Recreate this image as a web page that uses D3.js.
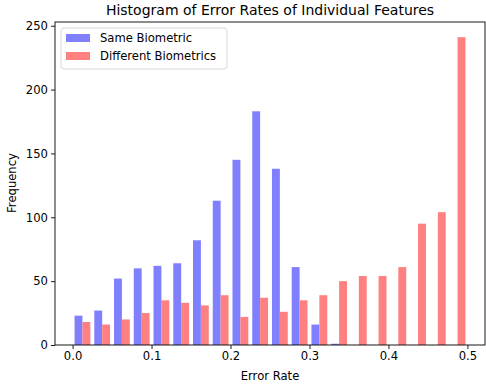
<!DOCTYPE html>
<html>
<head>
<meta charset="utf-8">
<script src="https://cdn.jsdelivr.net/npm/d3@7"></script>
<style>
  body { margin: 0; background: #fff; }
  svg { display: block; font-family: "DejaVu Sans", sans-serif; }
</style>
</head>
<body>
<svg id="chart" width="486" height="387"></svg>
<script>
// histogram: 20 bins from 0 to 0.5
var binStart = 0, binWidth = 0.025;
var seriesNames = ["Same Biometric", "Different Biometrics"];
var sameCounts = [23, 27, 52, 60, 62, 64, 82, 113, 145, 183, 138, 61, 16, 1, 0, 0, 0, 0, 0, 0];
var diffCounts = [18, 16, 20, 25, 35, 33, 31, 39, 22, 37, 26, 35, 39, 50, 54, 54, 61, 95, 104, 241];
var xTicks = [0.0, 0.1, 0.2, 0.3, 0.4, 0.5];
var yTicks = [0, 50, 100, 150, 200, 250];
var colors = ["#8080ff", "#ff8080"];

var svg = d3.select("#chart");
// note: "top" is taken by window.top, so use other names
var plotL = 55, plotR = 485, plotT = 22, plotB = 345;

var x = d3.scaleLinear().domain([-0.02225, 0.52225]).range([plotL, plotR]);
var y = d3.scaleLinear().domain([0, 252.9]).range([plotB, plotT]);

// build bar rows
var bars = [];
[sameCounts, diffCounts].forEach(function(arr, s) {
  arr.forEach(function(v, i) {
    var b0 = binStart + i * binWidth;
    bars.push({ s: s, v: v, x0: b0 + binWidth * (0.1 + 0.4 * s), x1: b0 + binWidth * (0.5 + 0.4 * s) });
  });
});

svg.append("g").selectAll("rect")
  .data(bars)
  .enter().append("rect")
  .attr("x", function(d) { return x(d.x0); })
  .attr("width", function(d) { return x(d.x1) - x(d.x0); })
  .attr("y", function(d) { return y(d.v); })
  .attr("height", function(d) { return y(0) - y(d.v); })
  .attr("fill", function(d) { return colors[d.s]; });

// frame
svg.append("rect")
  .attr("x", plotL).attr("y", plotT)
  .attr("width", plotR - plotL).attr("height", plotB - plotT)
  .attr("fill", "none").attr("stroke", "#000").attr("stroke-width", 0.9);

var xAxis = svg.append("g")
  .attr("transform", "translate(0," + plotB + ")")
  .call(d3.axisBottom(x).tickValues(xTicks).tickFormat(d3.format(".1f")).tickSizeOuter(0).tickSize(4).tickPadding(3));
var yAxis = svg.append("g")
  .attr("transform", "translate(" + plotL + ",0)")
  .call(d3.axisLeft(y).tickValues(yTicks).tickSizeOuter(0).tickSize(4).tickPadding(3));

[xAxis, yAxis].forEach(function(a) {
  a.select(".domain").remove();
  a.selectAll("text").attr("font-size", "11.6px").attr("font-family", "DejaVu Sans").attr("fill", "#000");
  a.selectAll("line").attr("stroke", "#000").attr("stroke-width", 0.9);
});

svg.append("text")
  .attr("x", 270).attr("y", 15)
  .attr("text-anchor", "middle")
  .attr("font-size", "14px")
  .text("Histogram of Error Rates of Individual Features");

svg.append("text")
  .attr("x", 270).attr("y", 380)
  .attr("text-anchor", "middle")
  .attr("font-size", "11.6px")
  .text("Error Rate");

svg.append("text")
  .attr("transform", "translate(16,183) rotate(-90)")
  .attr("text-anchor", "middle")
  .attr("font-size", "11.6px")
  .text("Frequency");

// legend
var legend = svg.append("g");
legend.append("rect")
  .attr("x", 61).attr("y", 28).attr("width", 166).attr("height", 41)
  .attr("rx", 3).attr("fill", "#fff").attr("fill-opacity", 0.8)
  .attr("stroke", "#d9d9d9").attr("stroke-width", 1);
seriesNames.forEach(function(name, i) {
  legend.append("rect")
    .attr("x", 66).attr("y", 34 + i * 18).attr("width", 24).attr("height", 8)
    .attr("fill", colors[i]);
  legend.append("text")
    .attr("x", 100).attr("y", 42 + i * 18)
    .attr("font-size", "11.6px")
    .text(name);
});
</script>
</body>
</html>
